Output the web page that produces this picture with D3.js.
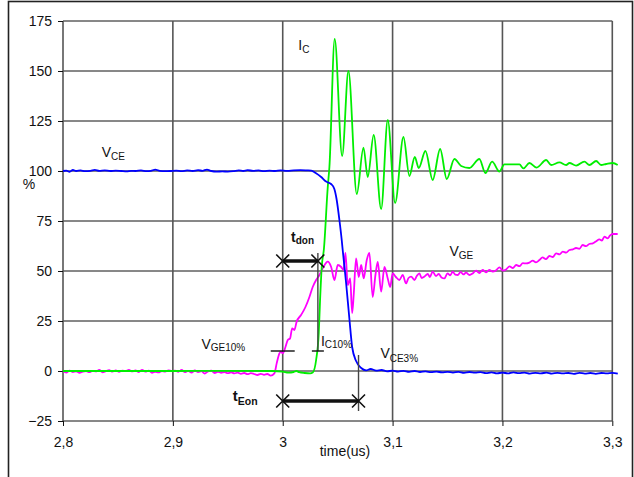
<!DOCTYPE html>
<html>
<head>
<meta charset="utf-8">
<script src="https://cdn.jsdelivr.net/npm/d3@7"></script>
<style>
  html, body { margin: 0; padding: 0; background: #fff; }
  svg { display: block; font-family: "Liberation Sans", Arial, sans-serif; }
</style>
</head>
<body>
<svg id="chart" width="634" height="477"></svg>
<script>
// Turn-on switching waveforms, in % of nominal, versus time in microseconds.
const yTicks = [-25, 0, 25, 50, 75, 100, 125, 150, 175];
const xTicks = [2.8, 2.9, 3.0, 3.1, 3.2, 3.3];
const xTickLabels = ["2,8", "2,9", "3", "3,1", "3,2", "3,3"];

// Collector-emitter voltage V_CE [time, %]
const vce = [
  [2.800,100],[2.803,100.2],[2.806,99.6],[2.809,100.5],[2.812,100],[2.816,100.3],[2.820,99.9],
  [2.825,100.1],[2.829,100.6],[2.833,100.1],[2.838,100.3],[2.843,100],[2.848,100.2],[2.853,100],
  [2.858,99.8],[2.862,100.1],[2.866,100],[2.871,100.3],[2.876,99.9],[2.880,100.1],[2.884,100.7],
  [2.888,100.1],[2.893,99.9],[2.898,100],[2.903,100.2],[2.908,99.9],[2.913,100.3],[2.918,100],
  [2.923,100.4],[2.927,100.1],[2.931,100.7],[2.935,100],[2.940,99.7],[2.945,99.8],[2.950,99.7],
  [2.955,99.9],[2.960,100.3],[2.964,100],[2.968,100.4],[2.973,100.1],[2.978,100.3],[2.983,99.9],
  [2.988,100.2],[2.993,100],[2.998,100.3],[3.004,100.1],[3.010,100.3],[3.016,100.4],[3.022,100.3],
  [3.026,100.2],[3.030,99],[3.035,97],[3.0395,94.7],[3.044,93.5],[3.047,91],[3.049,86],
  [3.0516,75.5],[3.0537,65.5],[3.0546,60.5],[3.0577,44],[3.0607,26],[3.0632,12],[3.0668,5],
  [3.0714,1.5],[3.0759,0.3],[3.080,1],[3.085,0.2],[3.090,0.5],[3.095,-0.2],[3.100,0.2],
  [3.105,-0.3],[3.110,0.1],[3.115,-0.4],[3.120,0],[3.125,-0.5],[3.130,-0.2],[3.135,-0.6],
  [3.140,-0.3],[3.145,-0.7],[3.150,-0.4],[3.155,-0.8],[3.160,-0.4],[3.165,-0.9],[3.170,-0.5],
  [3.175,-0.8],[3.180,-0.6],[3.185,-1.1],[3.190,-0.7],[3.195,-1.2],[3.200,-0.8],[3.205,-1.2],
  [3.210,-0.7],[3.215,-1.1],[3.220,-0.8],[3.225,-1.3],[3.230,-0.9],[3.235,-1.2],[3.240,-0.8],
  [3.245,-1.3],[3.250,-0.9],[3.255,-1.2],[3.260,-1.0],[3.265,-1.4],[3.270,-0.9],[3.275,-1.3],
  [3.280,-1.0],[3.285,-1.4],[3.290,-1.0],[3.295,-1.2],[3.300,-0.9],[3.305,-1.3]
];

// Collector current I_C [time, %]
const ic = [
  [2.800,0],[2.850,0],[2.900,0],[2.950,0.1],[2.990,0],[3.000,-0.3],[3.005,-0.8],[3.010,-0.5],
  [3.0125,0],[3.015,-0.6],[3.020,-1],[3.025,-1.2],[3.0273,-0.8],[3.0304,5.5],[3.0328,19],
  [3.034,35.5],[3.0355,52],[3.0375,61],[3.041,92],[3.0425,102],[3.0473,166],[3.0541,107.5],
  [3.0598,150],[3.0674,88.5],[3.0735,111.7],[3.0774,97],[3.0828,118],[3.0896,81],[3.0956,125.5],
  [3.1023,84],[3.1099,117],[3.1153,97.5],[3.1202,107],[3.1238,101.5],[3.1299,110],[3.1365,95.5],
  [3.1433,111],[3.1493,96],[3.1563,106],[3.1624,102.5],[3.1699,101.5],[3.1790,106],[3.1845,99],
  [3.1906,104.7],[3.1973,99.7],[3.2018,103.3],[3.2155,103.3],[3.2191,101.3],[3.2246,104],
  [3.2312,101.7],[3.2398,105.5],[3.2443,103],[3.2519,104.3],[3.258,103],[3.261,104],
  [3.2671,102.7],[3.2746,104.7],[3.2792,103],[3.2853,105],[3.2898,103],[3.2944,103.5],
  [3.3004,104],[3.3049,103]
];

// Gate-emitter voltage V_GE [time, %]
const vge = [
  [2.800,0],[2.803,-0.8],[2.806,0.2],[2.809,-0.5],[2.812,-0.2],[2.815,-0.9],[2.818,-0.3],
  [2.821,0],[2.824,-0.6],[2.827,0.1],[2.830,-0.2],[2.833,0.5],[2.836,-0.7],[2.839,-0.1],
  [2.842,0.4],[2.845,-0.3],[2.848,0.3],[2.851,-0.4],[2.854,0.2],[2.857,-0.1],[2.860,0.5],
  [2.863,-0.2],[2.866,0.3],[2.869,-0.5],[2.872,0.6],[2.875,-0.3],[2.878,0.2],[2.881,-0.9],
  [2.884,-0.4],[2.887,-0.7],[2.890,0],[2.893,-0.3],[2.896,0.3],[2.899,0],[2.902,0.2],
  [2.905,-0.4],[2.908,0.5],[2.911,-0.6],[2.914,0.1],[2.917,-0.8],[2.920,0.3],[2.923,-0.5],
  [2.926,-0.1],[2.929,-1.3],[2.932,-0.2],[2.935,0.2],[2.938,-1.0],[2.941,-0.4],[2.944,-0.9],
  [2.947,-0.6],[2.950,-1.1],[2.953,-0.7],[2.956,-1.2],[2.959,-0.8],[2.962,-1.4],[2.965,-1.0],
  [2.968,-1.6],[2.971,-1.1],[2.974,-1.5],[2.977,-2.0],[2.980,-1.4],[2.983,-1.9],[2.986,-1.5],
  [2.989,-2.3],[2.9924,-1.2],[2.9945,3.8],[2.997,8.8],[2.9985,9.7],[3.000,8.8],[3.0025,12],
  [3.0046,15.5],[3.0067,16.3],[3.0086,21.3],[3.0106,20.5],[3.0127,24.7],[3.0167,28],[3.0207,32],
  [3.0243,37],[3.0273,42],[3.0304,45.5],[3.0334,48],[3.0364,51.3],[3.0410,54.7],[3.0441,52],
  [3.0471,45.5],[3.0501,53],[3.0532,52],[3.0553,50.5],[3.0571,59],[3.0592,43],[3.0614,46.3],
  [3.0632,29],[3.0646,38],[3.0668,56.3],[3.0692,47],[3.0714,53],[3.0737,46.3],[3.0765,55.5],
  [3.0789,59],[3.0819,37],[3.0844,48],[3.0865,54.6],[3.0896,39.7],[3.0926,52],[3.0956,46.3],
  [3.0978,42],[3.1001,48.8],[3.1030,47.0],[3.1062,45.5],[3.1092,48],[3.1123,43.8],[3.1145,46.5],
  [3.1169,47.2],[3.1199,45.5],[3.1220,47.5],[3.1244,48.8],[3.1265,46.5],[3.1290,47.2],[3.1320,48.5],
  [3.1340,47.0],[3.1365,49.7],[3.1395,47.5],[3.1420,48.5],[3.1445,46.8],[3.1472,46.3],[3.1500,48.8],
  [3.1525,47.8],[3.1547,49.7],[3.1570,48.2],[3.1593,48],[3.1620,49.5],[3.1645,48.3],[3.1669,49.2],
  [3.1700,48.0],[3.1729,48.8],[3.1760,50.2],[3.1790,49.0],[3.1820,50.5],[3.1850,49.3],[3.1880,50.6],
  [3.1912,49.7],[3.1940,50.3],[3.1973,51.8],[3.2003,50.2],[3.2033,50.8],[3.2065,52.3],[3.2095,51.5],
  [3.2125,53],[3.2155,52.4],[3.2185,53.9],[3.2216,53.8],[3.2245,54.2],[3.2276,55.2],[3.2305,54.3],
  [3.2337,55.5],[3.2365,56.8],[3.2395,55.9],[3.2428,57.5],[3.2458,57.0],[3.2489,58.8],[3.2520,58.3],
  [3.2549,59.7],[3.2580,59.2],[3.2610,60.5],[3.2640,60.8],[3.2670,61.5],[3.2700,61.1],[3.2731,63],
  [3.2760,62.4],[3.2790,63.5],[3.2822,63.8],[3.2850,64.8],[3.2883,65.8],[3.2905,65.2],[3.2928,67.2],
  [3.2958,66.3],[3.2980,67.8],[3.3004,68.5],[3.3049,68.5]
];

// Timing intervals: t_don (V_GE 10% -> I_C 10%) and t_Eon (V_GE 10% -> V_CE 3%)
const intervals = [
  { name: "don", start: 3.0, end: 3.032, level: 55 },
  { name: "Eon", start: 3.0, end: 3.069, level: -15 }
];
// Threshold crossing markers [time, level]
const thresholds = [
  { time: 3.0, level: 10, half: 12 },
  { time: 3.032, level: 10, half: 6 }
];
// Marker guide lines [time, from, to]
const guides = [
  [3.032, 59, 10],
  [3.069, 8, -20]
];

const svg = d3.select("#chart");
const x = d3.scaleLinear().domain([2.8, 3.3]).range([63, 612.3]);
const y = d3.scaleLinear().domain([-25, 175]).range([421, 21]);

// outer frame
svg.append("rect").attr("x", 8.5).attr("y", 1.5).attr("width", 624).attr("height", 480)
  .attr("fill", "none").attr("stroke", "#222").attr("stroke-width", 1.6);

// grid
const grid = svg.append("g");
grid.selectAll("line.h").data(yTicks).join("line")
  .attr("x1", x(2.8)).attr("x2", x(3.3))
  .attr("y1", d => y(d)).attr("y2", d => y(d))
  .attr("stroke", "#111").attr("stroke-width", 1);
grid.selectAll("line.v").data(xTicks).join("line")
  .attr("x1", d => x(d)).attr("x2", d => x(d))
  .attr("y1", y(175)).attr("y2", y(-25))
  .attr("stroke", "#555").attr("stroke-width", 1.6);

// axes
const yAxis = d3.axisLeft(y).tickValues(yTicks).tickSize(5).tickPadding(6).tickFormat(d3.format("d"));
const gy = svg.append("g").attr("transform", `translate(${x(2.8)},0)`).call(yAxis);
const xAxis = d3.axisBottom(x).tickValues(xTicks).tickSize(5).tickPadding(11)
  .tickFormat((d, i) => xTickLabels[i]);
const gx = svg.append("g").attr("transform", `translate(0,${y(-25)})`).call(xAxis);
[gx, gy].forEach(g => {
  g.select(".domain").remove();
  g.selectAll(".tick line").attr("stroke", "#111");
  g.selectAll("text").attr("font-size", 14).attr("fill", "#111")
    .attr("font-family", "'Liberation Sans', Arial, sans-serif");
});

svg.append("text").attr("x", 29).attr("y", 189).attr("text-anchor", "middle")
  .attr("font-size", 14).attr("fill", "#111").text("%");
svg.append("text").attr("x", 345).attr("y", 456).attr("text-anchor", "middle")
  .attr("font-size", 14).attr("fill", "#111").text("time(us)");

// waveforms
const line = d3.line().x(d => x(d[0])).y(d => y(d[1])).curve(d3.curveMonotoneX);
const series = [
  { data: vge, color: "#ff00ff" },
  { data: ic, color: "#00ee00" },
  { data: vce, color: "#0000ff" }
];
svg.append("g").selectAll("path").data(series).join("path")
  .attr("d", d => line(d.data)).attr("fill", "none")
  .attr("stroke", d => d.color).attr("stroke-width", 1.8).attr("stroke-linejoin", "round");

// annotations
const ann = svg.append("g").attr("stroke", "#111");
ann.selectAll("line.g").data(guides).join("line")
  .attr("x1", d => x(d[0])).attr("x2", d => x(d[0]))
  .attr("y1", d => y(d[1])).attr("y2", d => y(d[2])).attr("stroke-width", 1.4).attr("stroke", "#444");
ann.selectAll("line.t").data(thresholds).join("line")
  .attr("x1", d => x(d.time) - d.half).attr("x2", d => x(d.time) + d.half)
  .attr("y1", d => y(d.level)).attr("y2", d => y(d.level)).attr("stroke-width", 1.4);
ann.selectAll("line.a").data(intervals).join("line")
  .attr("x1", d => x(d.start)).attr("x2", d => x(d.end))
  .attr("y1", d => y(d.level)).attr("y2", d => y(d.level)).attr("stroke-width", 3.6);
const crosses = intervals.flatMap(d => [[d.start, d.level], [d.end, d.level]]);
const s = 6.5;
ann.selectAll("path.x").data(crosses).join("path")
  .attr("d", d => {
    const cx = x(d[0]), cy = y(d[1]);
    return `M${cx - s},${cy - s}L${cx + s},${cy + s}M${cx - s},${cy + s}L${cx + s},${cy - s}`;
  })
  .attr("fill", "none").attr("stroke-width", 1.6);

// labels with subscripts
function label(t, v, main, sub, opts = {}) {
  const el = svg.append("text").attr("x", x(t)).attr("y", y(v))
    .attr("fill", "#111").attr("font-weight", opts.bold ? "bold" : "normal");
  el.append("tspan").attr("font-size", opts.size || 14).text(main);
  el.append("tspan").attr("font-size", opts.subSize || 10).attr("dy", opts.dy || 3).text(sub);
}
label(2.8352, 107.2, "V", "CE");
label(3.0142, 160.5, "I", "C");
label(3.1517, 57.5, "V", "GE");
label(2.926, 11, "V", "GE10%", { dy: 2 });
label(3.0348, 12.6, "I", "C10%", { dy: 2 });
label(3.0889, 6.3, "V", "CE3%", { dy: 4 });
label(3.0076, 64.6, "t", "don", { bold: true, dy: 2.5 });
label(2.9545, -15, "t", "Eon", { bold: true, dy: 4, size: 15, subSize: 10.5 });
</script>
</body>
</html>
